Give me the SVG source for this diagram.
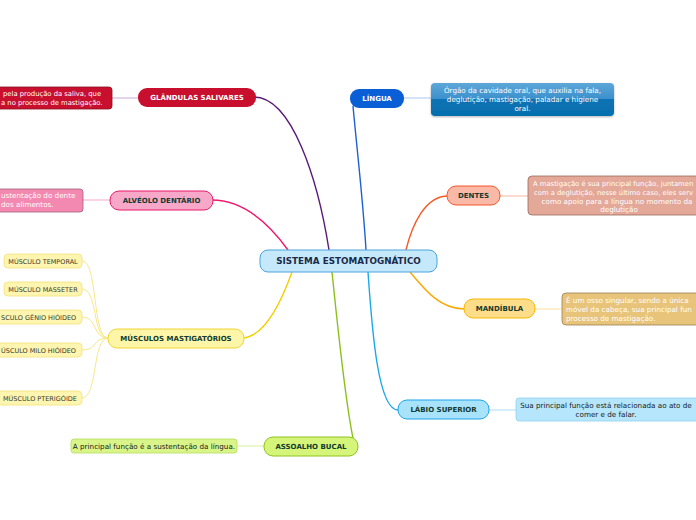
<svg xmlns="http://www.w3.org/2000/svg" width="696" height="520" viewBox="0 0 696 520">
<defs>
<linearGradient id="gBlue" x1="0" y1="0" x2="0" y2="1">
<stop offset="0" stop-color="#5ea7d8"/><stop offset="0.5" stop-color="#3a8fcc"/><stop offset="0.5" stop-color="#0a72b4"/><stop offset="1" stop-color="#0570ae"/>
</linearGradient>
<filter id="sh" x="-10%" y="-20%" width="120%" height="150%"><feDropShadow dx="0" dy="1" stdDeviation="0.8" flood-color="#000" flood-opacity="0.3"/></filter>
</defs>
<style>
text{font-family:"DejaVu Sans","Liberation Sans",sans-serif}
.lbl{font-size:7px;font-weight:bold;text-anchor:middle;fill:#123a2e}
.wl{fill:#ffffff}
.note{font-size:7.2px;text-anchor:middle;fill:#ffffff}
.sm{font-size:6.8px}
.dk{fill:#1a1a1a}
.mus{font-size:6.5px;text-anchor:middle;fill:#3a3a2a}
.c{fill:none;stroke-width:1.4}
.t{fill:none;stroke-width:1}
.st{text-anchor:start}
.en{text-anchor:end}
</style>
<rect width="696" height="520" fill="#ffffff"/>
<g id="connectors">
<path class="c" stroke="#5b1a78" d="M254,97 C292,97 318,180 329,250"/>
<path class="c" stroke="#1f5fd6" d="M353,106 C357,150 363,200 366,250"/>
<path class="c" stroke="#f0196e" d="M212,200 C245,200 270,225 288,250"/>
<path class="c" stroke="#f25a24" d="M448,196 C425,196 412,225 406,250"/>
<path class="c" stroke="#f2cf00" d="M243,338 C265,336 282,300 292,272"/>
<path class="c" stroke="#f9a800" d="M410,272 C425,290 440,309 464,309"/>
<path class="c" stroke="#8cbf1a" d="M332,272 C338,330 345,400 353,438"/>
<path class="c" stroke="#1aa8e8" d="M368,272 C372,330 378,410 398,410"/>
<path class="t" stroke="#c9a6d8" d="M112,98 L138,98"/>
<path class="t" stroke="#f6a9c6" d="M83,200 L110,200"/>
<path class="t" stroke="#a8c6ea" d="M404,98 L431,98"/>
<path class="t" stroke="#f7b6a2" d="M500,196 L528,196"/>
<path class="t" stroke="#fbe0a0" d="M535,309 L562,309"/>
<path class="t" stroke="#a8dcf6" d="M489,410 L516,410"/>
<path class="t" stroke="#d6ee9a" d="M237,446 L264,446"/>
<path class="t" stroke="#f7e88a" d="M82,261 C98,261 92,338 108,338"/>
<path class="t" stroke="#f7e88a" d="M82,289 C98,289 92,338 108,338"/>
<path class="t" stroke="#f7e88a" d="M82,317 C98,317 92,338 108,338"/>
<path class="t" stroke="#f7e88a" d="M82,350 C98,350 92,338 108,338"/>
<path class="t" stroke="#f7e88a" d="M82,398 C98,398 92,338 108,338"/>
</g>
<g id="central">
<rect x="260" y="250" width="177" height="22" rx="8" fill="#c5e9fb" stroke="#4aa3df" stroke-width="1"/>
<text x="348.5" y="264" font-size="8.8" font-weight="bold" text-anchor="middle" fill="#1c2a4a">SISTEMA ESTOMATOGNÁTICO</text>
</g>
<g id="glandulas">
<rect x="138" y="88" width="118" height="19" rx="9" fill="#c8102e"/>
<text class="lbl wl" x="197" y="100">GLÂNDULAS SALIVARES</text>
</g>
<g id="glandulas-note">
<rect x="-10" y="87" width="122" height="22" rx="3" fill="#c8102e" stroke="#8a1020" stroke-width="0.8"/>
<text class="note sm st" x="3" y="96">pela produção da saliva, que</text>
<text class="note sm st" x="1" y="105">a no processo de mastigação.</text>
</g>
<g id="alveolo">
<rect x="110" y="191" width="103" height="19" rx="9" fill="#f7a8c8" stroke="#e8196b" stroke-width="1"/>
<text class="lbl" x="161.5" y="203">ALVÉOLO DENTÁRIO</text>
</g>
<g id="alveolo-note">
<rect x="-10" y="189" width="93" height="23" rx="3" fill="#f389b0" stroke="#a0607a" stroke-width="0.8"/>
<text class="note st" x="1" y="198">ustentação do dente</text>
<text class="note st" x="1" y="207">dos alimentos.</text>
</g>
<g id="musculos">
<rect x="108" y="329" width="136" height="19" rx="9" fill="#fdf6a8" stroke="#f0d430" stroke-width="1"/>
<text class="lbl" x="176" y="341">MÚSCULOS MASTIGATÓRIOS</text>
</g>
<g id="temporal">
<rect x="4" y="254" width="78" height="14" rx="4" fill="#fdf5b0" stroke="#f4e27a" stroke-width="0.8"/>
<text class="mus" x="43" y="263.5">MÚSCULO TEMPORAL</text>
</g>
<g id="masseter">
<rect x="4" y="282" width="78" height="14" rx="4" fill="#fdf5b0" stroke="#f4e27a" stroke-width="0.8"/>
<text class="mus" x="43" y="291.5">MÚSCULO MASSETER</text>
</g>
<g id="genio">
<rect x="-6" y="310" width="88" height="14" rx="4" fill="#fdf5b0" stroke="#f4e27a" stroke-width="0.8"/>
<text class="mus st" x="1" y="319.5">SCULO GÊNIO HIÓIDEO</text>
</g>
<g id="milo">
<rect x="-6" y="343" width="88" height="14" rx="4" fill="#fdf5b0" stroke="#f4e27a" stroke-width="0.8"/>
<text class="mus st" x="1" y="352.5">ÚSCULO MILO HIÓIDEO</text>
</g>
<g id="pterigoide">
<rect x="-4" y="391" width="86" height="14" rx="4" fill="#fdf5b0" stroke="#f4e27a" stroke-width="0.8"/>
<text class="mus st" x="3" y="400.5">MÚSCULO PTERIGÓIDE</text>
</g>
<g id="assoalho">
<rect x="264" y="437" width="94" height="19" rx="9" fill="#d4f57a" stroke="#8ec21e" stroke-width="1"/>
<text class="lbl" x="311" y="449">ASSOALHO BUCAL</text>
</g>
<g id="assoalho-note">
<rect x="71" y="439" width="166" height="14" rx="3" fill="#d9f58a" stroke="#b5dd5a" stroke-width="0.8"/>
<text class="note dk" x="154" y="448.5">A principal função é a sustentação da língua.</text>
</g>
<g id="lingua">
<rect x="350" y="89" width="54" height="19" rx="9" fill="#0a5fd6"/>
<text class="lbl wl" x="377" y="101">LÍNGUA</text>
</g>
<g id="lingua-note">
<rect x="431" y="83" width="183" height="33" rx="4" fill="url(#gBlue)" filter="url(#sh)"/>
<text class="note" x="522.5" y="93">Órgão da cavidade oral, que auxilia na fala,</text>
<text class="note" x="522.5" y="102">deglutição, mastigação, paladar e higiene</text>
<text class="note" x="522.5" y="111">oral.</text>
</g>
<g id="dentes">
<rect x="447" y="186" width="53" height="19" rx="9" fill="#f9b9a6" stroke="#f2572a" stroke-width="1"/>
<text class="lbl" x="473.5" y="198">DENTES</text>
</g>
<g id="dentes-note">
<rect x="528" y="176" width="180" height="39" rx="4" fill="#e3a898" stroke="#9a6a5a" stroke-width="0.8"/>
<text class="note sm st" x="533" y="186">A mastigação é sua principal função, juntamen</text>
<text class="note sm st" x="534" y="195">com a deglutição, nesse último caso, eles serv</text>
<text class="note" x="617" y="204">como apoio para a língua no momento da</text>
<text class="note" x="619" y="212">deglutição</text>
</g>
<g id="mandibula">
<rect x="464" y="299" width="71" height="19" rx="9" fill="#fddc8a" stroke="#f5b800" stroke-width="1"/>
<text class="lbl" x="499.5" y="311">MANDÍBULA</text>
</g>
<g id="mandibula-note">
<rect x="562" y="293" width="146" height="32" rx="4" fill="#e8c47a" stroke="#9a8050" stroke-width="0.8"/>
<text class="note st" x="566" y="303">É um osso singular, sendo a única</text>
<text class="note st" x="566" y="312">móvel da cabeça, sua principal fun</text>
<text class="note st" x="566" y="321">processo de mastigação.</text>
</g>
<g id="labio">
<rect x="398" y="400" width="91" height="19" rx="9" fill="#a8e2fb" stroke="#1aa4e8" stroke-width="1"/>
<text class="lbl" x="443.5" y="412">LÁBIO SUPERIOR</text>
</g>
<g id="labio-note">
<rect x="516" y="398" width="190" height="23" rx="3" fill="#b5e6fb" stroke="#8fd0f0" stroke-width="0.8"/>
<text class="note dk" x="606" y="408">Sua principal função está relacionada ao ato de</text>
<text class="note dk" x="606" y="417">comer e de falar.</text>
</g>
</svg>
